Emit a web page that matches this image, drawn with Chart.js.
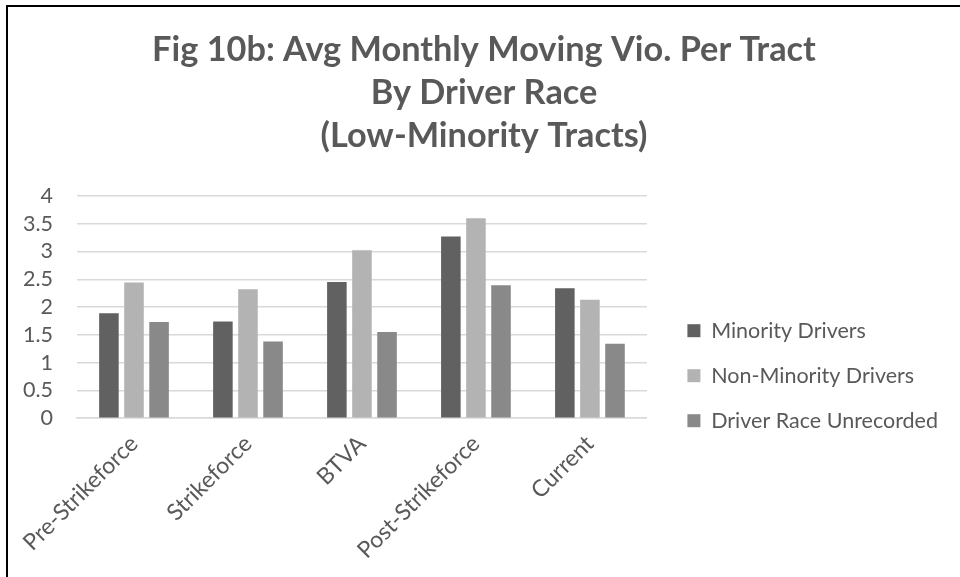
<!DOCTYPE html>
<html>
<head>
<meta charset="utf-8">
<script src="https://cdn.jsdelivr.net/npm/chart.js@4/dist/chart.umd.min.js"></script>
<style>
  html, body { margin: 0; padding: 0; background: #ffffff; }
  #wrap { position: relative; width: 960px; height: 577px; overflow: hidden; background: #ffffff; }
  #frame { position: absolute; left: 6px; top: 5px; width: 960px; height: 600px;
           border-left: 2px solid #000; border-top: 2px solid #000; pointer-events: none; }
  canvas { position: absolute; left: 0; top: 0; }
</style>
</head>
<body>
<div id="wrap">
  <canvas id="c" width="960" height="577"></canvas>
  <div id="frame"></div>
</div>
<script>
const titleLines = ['Fig 10b: Avg Monthly Moving Vio. Per Tract', 'By Driver Race', '(Low-Minority Tracts)'];
const categories = ['Pre-Strikeforce', 'Strikeforce', 'BTVA', 'Post-Strikeforce', 'Current'];
const seriesNames = ['Minority Drivers', 'Non-Minority Drivers', 'Driver Race Unrecorded'];
const minorityDrivers = [1.89, 1.74, 2.45, 3.27, 2.34];
const nonMinorityDrivers = [2.44, 2.32, 3.02, 3.60, 2.13];
const raceUnrecorded = [1.73, 1.38, 1.55, 2.39, 1.34];
const yTicks = [0, 0.5, 1, 1.5, 2, 2.5, 3, 3.5, 4];

const colors = ['#616161', '#b3b3b3', '#898989'];
const textColor = '#595959';
const FONT = 'Lato, "Open Sans", sans-serif';
const TICK_SIZE = 21.5;
const XTICK_SIZE = 23;

const mk = (label, data, color) => ({
  label, data, backgroundColor: color, borderWidth: 0,
  categoryPercentage: 0.66, barPercentage: 0.78
});

new Chart(document.getElementById('c'), {
  type: 'bar',
  data: {
    labels: categories,
    datasets: [
      mk(seriesNames[0], minorityDrivers, colors[0]),
      mk(seriesNames[1], nonMinorityDrivers, colors[1]),
      mk(seriesNames[2], raceUnrecorded, colors[2])
    ]
  },
  options: {
    responsive: false,
    animation: false,
    devicePixelRatio: 1,
    layout: { padding: { left: 20, right: 12, top: 5, bottom: 9 } },
    plugins: {
      tooltip: { enabled: false },
      title: {
        display: true,
        text: titleLines,
        color: textColor,
        font: { family: FONT, size: 34.3, weight: 'bold', lineHeight: 1.25 },
        padding: { top: 23.7, bottom: 38.6 }
      },
      legend: {
        position: 'right',
        align: 'center',
        maxWidth: 320,
        title: { display: true, text: '', font: { size: 12, lineHeight: 1.2 }, padding: { top: 164, bottom: 0 } },
        labels: {
          boxWidth: 13, boxHeight: 13, padding: 23.5,
          color: textColor,
          font: { family: FONT, size: TICK_SIZE }
        }
      }
    },
    scales: {
      x: {
        grid: { display: false },
        border: { display: true, color: '#d9d9d9', width: 1.5 },
        afterFit: (s) => { s.paddingLeft = 0; },
        ticks: {
          color: textColor, font: { family: FONT, size: XTICK_SIZE },
          minRotation: 45, maxRotation: 45, padding: 4
        }
      },
      y: {
        min: 0, max: 4,
        afterBuildTicks: (s) => { s.ticks = yTicks.map(v => ({ value: v })); },
        afterFit: (s) => { s.width = 57; },
        grid: { color: '#d9d9d9', lineWidth: 1.5, drawTicks: false },
        border: { display: false },
        ticks: {
          color: textColor, font: { family: FONT, size: TICK_SIZE }, padding: 24,
          autoSkip: false,
          callback: (v) => String(v)
        }
      },
      spacer: {
        position: 'right',
        display: true,
        afterFit: (s) => { s.width = 17; },
        grid: { display: false },
        border: { display: false },
        ticks: { display: false }
      }
    }
  }
});
</script>
</body>
</html>
